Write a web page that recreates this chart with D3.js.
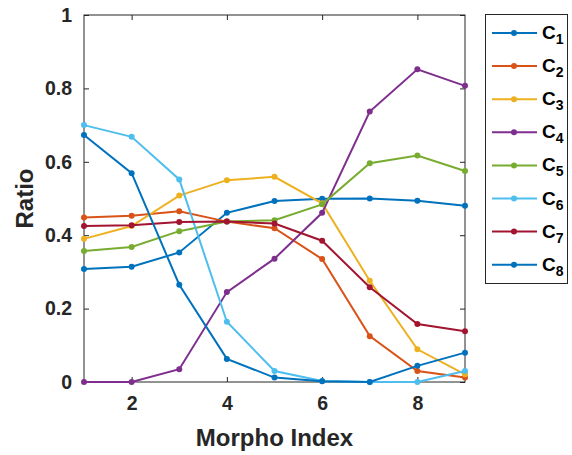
<!DOCTYPE html>
<html><head><meta charset="utf-8">
<script src="https://cdn.jsdelivr.net/npm/d3@7"></script>
<style>body{margin:0;background:#fff;} svg{display:block;font-family:"Liberation Sans",Arial,sans-serif;}</style>
</head><body>
<svg id="chart" width="572" height="455"></svg>
<script>
const xValues = [1,2,3,4,5,6,7,8,9];
const seriesNames = ["1","2","3","4","5","6","7","8"];
const seriesColors = ["#0072BD","#D95319","#EDB120","#7E2F8E","#77AC30","#4DBEEE","#A2142F","#0072BD"];
const C1 = [0.308,0.314,0.353,0.461,0.493,0.499,0.500,0.494,0.480];
const C2 = [0.448,0.453,0.465,0.437,0.419,0.335,0.125,0.030,0.012];
const C3 = [0.390,0.425,0.508,0.550,0.559,0.487,0.276,0.089,0.021];
const C4 = [0.000,0.000,0.035,0.245,0.336,0.461,0.737,0.852,0.807];
const C5 = [0.357,0.368,0.411,0.437,0.441,0.484,0.596,0.617,0.575];
const C6 = [0.700,0.668,0.552,0.164,0.030,0.003,0.000,0.000,0.030];
const C7 = [0.425,0.427,0.436,0.437,0.432,0.385,0.258,0.158,0.138];
const C8 = [0.673,0.569,0.265,0.063,0.012,0.002,0.000,0.044,0.080];
const allSeries = [C1,C2,C3,C4,C5,C6,C7,C8];
const xTicks = [2,4,6,8];
const yTicks = [0,0.2,0.4,0.6,0.8,1];
const yTickLabels = ["0","0.2","0.4","0.6","0.8","1"];

const svg = d3.select("#chart");
const L=84, R=465, T=15, B=382;
const x = d3.scaleLinear().domain([1,9]).range([L,R]);
const y = d3.scaleLinear().domain([0,1]).range([B,T]);
const axisColor = "#262626";

// box
svg.append("rect").attr("x",L).attr("y",T).attr("width",R-L).attr("height",B-T)
  .attr("fill","none").attr("stroke",axisColor).attr("stroke-width",1);

const tickLen = 5;
const gxb = svg.append("g").attr("transform",`translate(0,${B})`)
  .call(d3.axisBottom(x).tickValues(xTicks).tickSizeInner(-tickLen).tickSizeOuter(0).tickPadding(14).tickFormat(d3.format("d")));
const gxt = svg.append("g").attr("transform",`translate(0,${T})`)
  .call(d3.axisTop(x).tickValues(xTicks).tickSizeInner(-tickLen).tickSizeOuter(0).tickFormat(""));
const gyl = svg.append("g").attr("transform",`translate(${L},0)`)
  .call(d3.axisLeft(y).tickValues(yTicks).tickSizeInner(-tickLen).tickSizeOuter(0).tickPadding(12).tickFormat((d,i)=>yTickLabels[i]));
const gyr = svg.append("g").attr("transform",`translate(${R},0)`)
  .call(d3.axisRight(y).tickValues(yTicks).tickSizeInner(-tickLen).tickSizeOuter(0).tickFormat(""));
[gxb,gxt,gyl,gyr].forEach(g=>{
  g.select(".domain").remove();
  g.selectAll("line").attr("stroke",axisColor);
  g.selectAll("text").attr("fill",axisColor).style("font-size","19.5px").style("font-weight","bold").style("font-family","'Liberation Sans',Arial,sans-serif");
});
gxb.selectAll("text").attr("dy","0.71em");

// labels
svg.append("text").attr("x",(L+R)/2).attr("y",446).attr("text-anchor","middle")
  .attr("fill",axisColor).style("font-size","24px").style("font-weight","bold").text("Morpho Index");
svg.append("text").attr("transform",`translate(33,${(T+B)/2}) rotate(-90)`).attr("text-anchor","middle")
  .attr("fill",axisColor).style("font-size","24px").style("font-weight","bold").text("Ratio");

// lines
const line = d3.line().x((d,i)=>x(xValues[i])).y(d=>y(d));
const plot = svg.append("g");
allSeries.forEach((s,k)=>{
  const g = plot.append("g");
  g.append("path").datum(s).attr("d",line).attr("fill","none").attr("stroke",seriesColors[k]).attr("stroke-width",2);
  g.selectAll("circle").data(s).join("circle").attr("cx",(d,i)=>x(xValues[i])).attr("cy",d=>y(d)).attr("r",3).attr("fill",seriesColors[k]);
});

// legend
const lg = svg.append("g");
lg.append("rect").attr("x",485.5).attr("y",14.5).attr("width",82).attr("height",269)
  .attr("fill","#fff").attr("stroke",axisColor).attr("stroke-width",1);
seriesNames.forEach((n,k)=>{
  const yy = 33 + k*33.1;
  lg.append("line").attr("x1",492).attr("x2",537).attr("y1",yy).attr("y2",yy).attr("stroke",seriesColors[k]).attr("stroke-width",2);
  lg.append("circle").attr("cx",514).attr("cy",yy).attr("r",3).attr("fill",seriesColors[k]);
  const t = lg.append("text").attr("x",542).attr("y",yy+6).attr("fill","#000")
    .style("font-size","19px").style("font-weight","bold");
  t.append("tspan").text("C");
  t.append("tspan").attr("dy",5).style("font-size","14px").text(n);
});
</script>
</body></html>
